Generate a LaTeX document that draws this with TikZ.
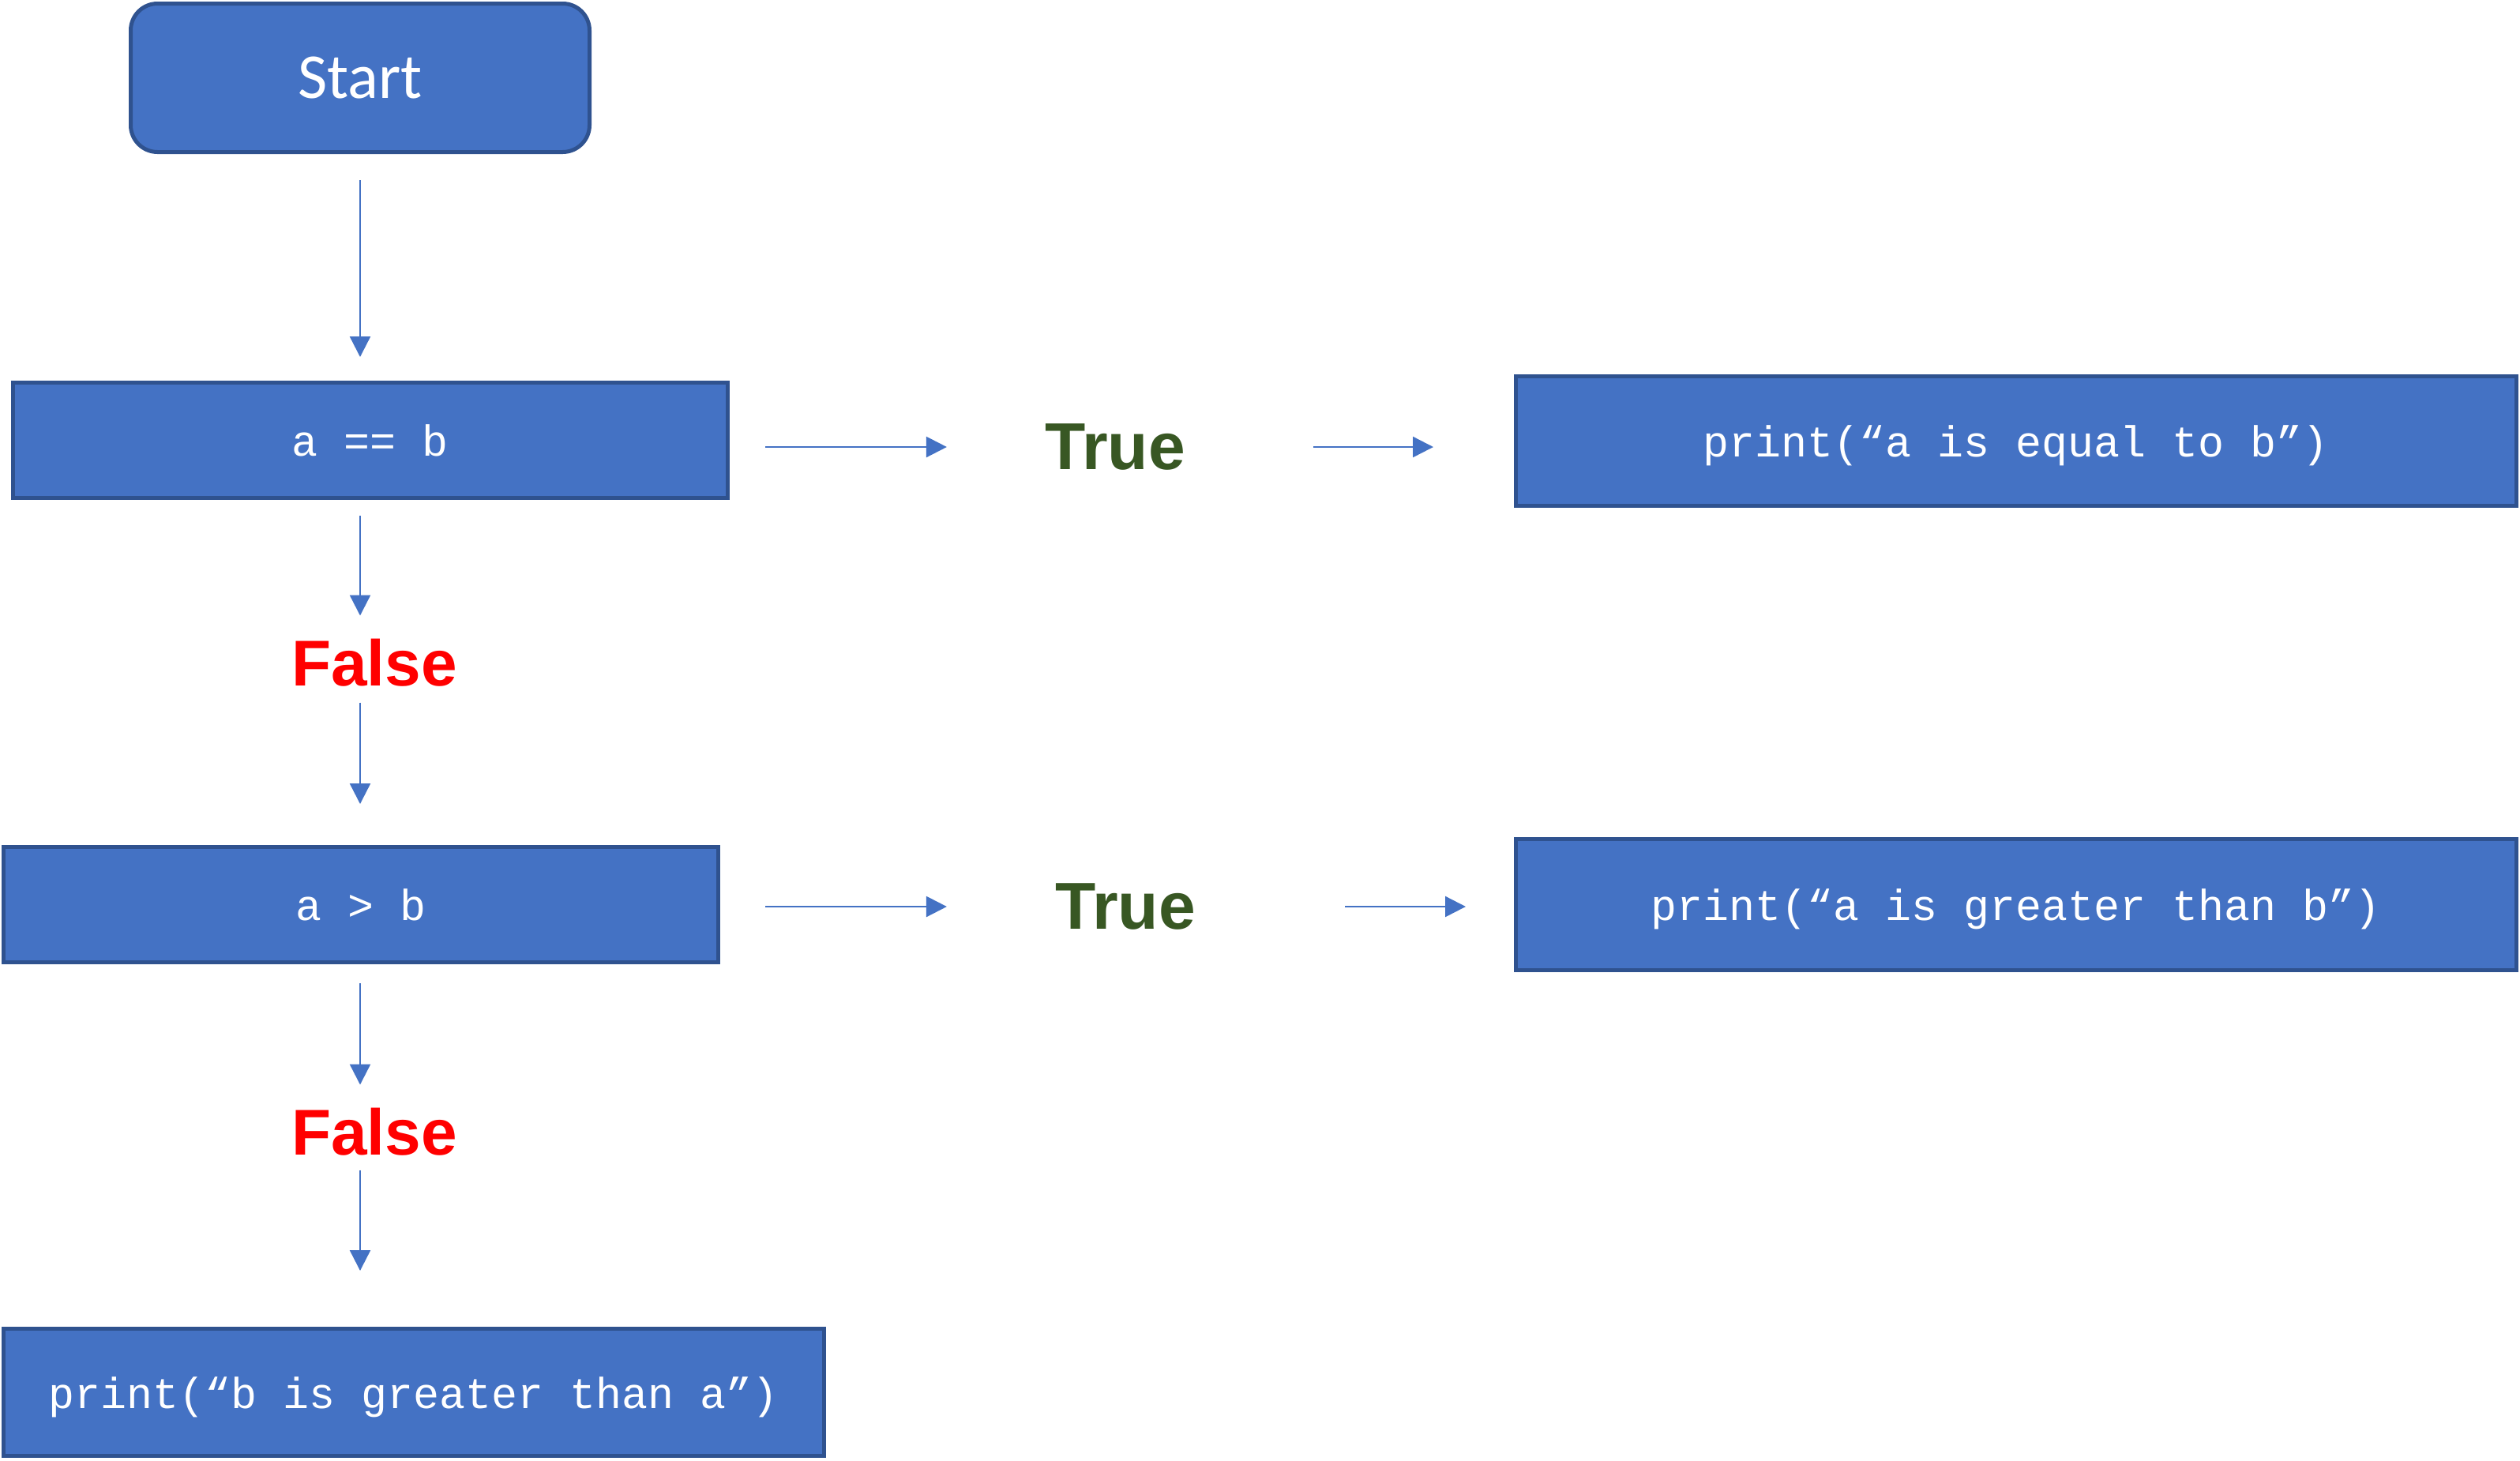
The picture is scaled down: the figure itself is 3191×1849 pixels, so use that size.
\documentclass[tikz,border=0pt]{standalone}
\usepackage{fontspec}
\usetikzlibrary{arrows.meta}
\newfontfamily\calibfont{Carlito}
\newfontfamily\monofont{Liberation Mono}
\newfontfamily\arialfont{Liberation Sans}
\definecolor{boxfill}{HTML}{4472C4}
\definecolor{boxline}{HTML}{2F528F}
\definecolor{truegreen}{HTML}{385723}
\definecolor{falsered}{HTML}{FF0000}
\tikzset{
  codebox/.style={draw=boxline, fill=boxfill, line width=2.5pt, text=white,
    font=\monofont\fontsize{27.5pt}{33pt}\selectfont, inner sep=0pt,
    text height=20pt, text depth=0pt},
  startbox/.style={draw=boxline, fill=boxfill, line width=2.5pt, text=white,
    rounded corners=17pt, font=\calibfont\fontsize{40.5pt}{48pt}\selectfont, inner sep=0pt},
  truelabel/.style={text=truegreen, font=\arialfont\bfseries\fontsize{42pt}{50pt}\selectfont, inner sep=0pt},
  falselabel/.style={text=falsered, font=\arialfont\bfseries\fontsize{41pt}{50pt}\selectfont, inner sep=0pt},
  flow/.style={draw=boxfill, line width=1.2pt, -{Triangle[length=13pt,width=13pt]}}
}
\begin{document}
\begin{tikzpicture}[x=0.5pt,y=-0.5pt]
\useasboundingbox (0,0) rectangle (3191,1849);
% boxes
\node[startbox, minimum width=290.5pt, minimum height=94pt] (start) at (456,98.5) {Start};
\node[codebox, minimum width=452.5pt, minimum height=73pt] (aeqb) at (469,557.5) {a == b};
\node[codebox, minimum width=633.5pt, minimum height=82pt] (p1) at (2553,558.5) {print(“a is equal to b”)};
\node[codebox, minimum width=452.5pt, minimum height=73pt] (agtb) at (457,1145.5) {a > b};
\node[codebox, minimum width=633.5pt, minimum height=83pt] (p2) at (2553,1145.5) {print(“a is greater than b”)};
\node[codebox, minimum width=519.5pt, minimum height=80.5pt] (p3) at (524,1763) {print(“b is greater than a”)};
% labels
\node[truelabel] (t1) at (1412,566) {True};
\node[truelabel] (t2) at (1425,1148) {True};
\node[falselabel] (f1) at (474,839) {False};
\node[falselabel] (f2) at (474,1433) {False};
% connectors
\coordinate (vx) at (456,0);
\draw[flow, shorten <=16.5pt, shorten >=15pt] (vx |- start.south) -- (vx |- aeqb.north);
\draw[flow, shorten <=10pt, shorten >=14.5pt] (vx |- aeqb.south) -- (vx |- f1.north);
\draw[flow, shorten <=10pt, shorten >=26pt] (vx |- f1.south) -- (vx |- agtb.north);
\draw[flow, shorten <=12pt, shorten >=14.5pt] (vx |- agtb.south) -- (vx |- f2.north);
\draw[flow, shorten <=9pt, shorten >=35.5pt] (vx |- f2.south) -- (vx |- p3.north);
\draw[flow, shorten <=22.5pt, shorten >=62pt] (aeqb.east |- t1) -- (t1.west);
\draw[flow, shorten <=81pt, shorten >=51pt] (t1.east) -- (p1.west |- t1);
\draw[flow, shorten <=28.5pt, shorten >=68.5pt] (agtb.east |- t2) -- (t2.west);
\draw[flow, shorten <=94.5pt, shorten >=30.5pt] (t2.east) -- (p2.west |- t2);
\end{tikzpicture}
\end{document}
